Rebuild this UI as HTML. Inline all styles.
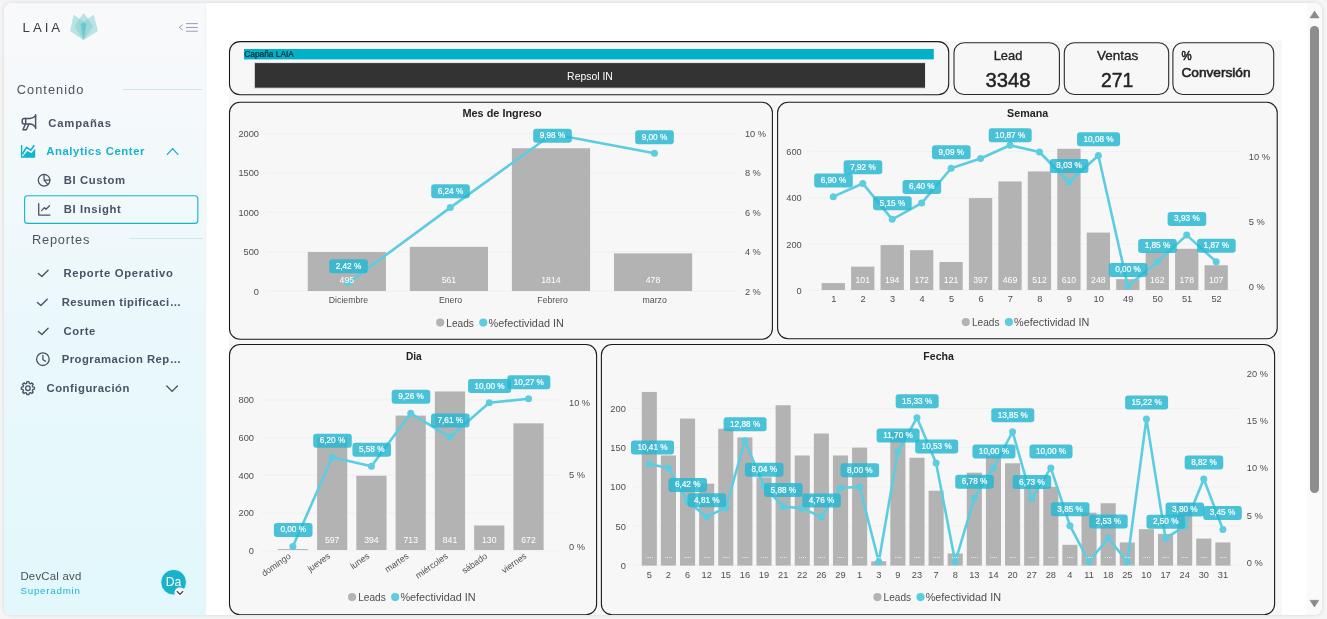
<!DOCTYPE html>
<html lang="es">
<head>
<meta charset="utf-8">
<title>LAIA - BI Insight</title>
<style>
*{box-sizing:border-box;margin:0;padding:0}
html,body{width:1327px;height:619px;overflow:hidden;background:#f5f5f5;font-family:"Liberation Sans",sans-serif}
#card{position:absolute;left:4px;top:3px;width:1318.2px;height:612px;border-radius:8px;background:#fff;box-shadow:0 0 4px rgba(0,0,0,.13);overflow:hidden}
#side{position:absolute;left:0;top:0;width:200.5px;height:612px;background:linear-gradient(180deg,#f8f9fb 0%,#f6f9fb 12%,#e9f8fb 60%,#e2f8fc 100%);box-shadow:1px 0 1px rgba(200,215,225,.3)}
#report{position:absolute;left:225px;top:38px;width:1053px;height:574px;background:#f7f7f7}
#track{position:absolute;left:1303px;top:0;width:15.5px;height:612px;background:#fafafa}
#thumb{position:absolute;left:1306.1px;top:22.7px;width:8.9px;height:467.5px;border-radius:4.5px;background:#8d8d8d}
.t{position:absolute;white-space:nowrap;line-height:1;color:#4b5264;font-weight:bold;font-size:11.3px}
.sec{position:absolute;white-space:nowrap;line-height:1;color:#4d5360;font-size:14px}
.hr{position:absolute;height:1px;background:#cfe6ee}
#ov{position:absolute;left:0;top:0;width:1327px;height:619px;font-family:"Liberation Sans",sans-serif}
#clip{position:absolute;left:0;top:0;width:1327px;height:615px;overflow:hidden}
</style>
</head>
<body>
<div id="card">
  <div id="report"></div>
  <div id="track"></div>
  <div id="thumb"></div>
  <div id="side"></div>
</div>
<div id="clip">
<svg id="ov" width="1327" height="619" viewBox="0 0 1327 619">
<!-- scrollbar arrows -->
<path d="M1314.55 11 L1319.1 17.9 L1310 17.9 Z" fill="#8a8a8a" stroke="#8a8a8a" stroke-width="0.6" stroke-linejoin="round"/>
<path d="M1314.4 607 L1318.8 600.3 L1310 600.3 Z" fill="#8a8a8a" stroke="#8a8a8a" stroke-width="0.6" stroke-linejoin="round"/>
<rect x="229.5" y="41.6" width="719.2" height="53.1" rx="10.5" ry="10.5" fill="none" stroke="#1a1a1a" stroke-width="1.1"/>
<rect x="244" y="49" width="689.8" height="10.4" fill="#00b1c9"/>
<text x="244.3" y="57.28" font-size="8.6" text-anchor="start" fill="#10262e" stroke="#10262e" stroke-width="0.2" textLength="49.5" lengthAdjust="spacingAndGlyphs">Capaña LAIA</text>
<rect x="254.3" y="62.6" width="671.2" height="25.6" fill="#333" stroke="#e9e9e9" stroke-width="1"/>
<text x="590" y="79.57" font-size="10.8" text-anchor="middle" fill="#fff" textLength="45.8" lengthAdjust="spacingAndGlyphs">Repsol IN</text>
<rect x="954" y="42.8" width="105.4" height="51.7" rx="10" ry="10" fill="none" stroke="#2a2a2a" stroke-width="1.1"/>
<rect x="1064.3" y="42.8" width="104.4" height="51.7" rx="10" ry="10" fill="none" stroke="#2a2a2a" stroke-width="1.1"/>
<rect x="1172.9" y="42.8" width="100.8" height="51.7" rx="10" ry="10" fill="none" stroke="#2a2a2a" stroke-width="1.1"/>
<text x="1008" y="60.07" font-size="13.6" text-anchor="middle" fill="#252423" stroke="#252423" stroke-width="0.35" textLength="28.6" lengthAdjust="spacingAndGlyphs">Lead</text>
<text x="1007.9" y="87.02" font-size="21" text-anchor="middle" fill="#252423" stroke="#252423" stroke-width="0.5" textLength="45" lengthAdjust="spacingAndGlyphs">3348</text>
<text x="1117.6" y="60.07" font-size="13.6" text-anchor="middle" fill="#252423" stroke="#252423" stroke-width="0.35" textLength="41.2" lengthAdjust="spacingAndGlyphs">Ventas</text>
<text x="1117.2" y="87.02" font-size="21" text-anchor="middle" fill="#252423" stroke="#252423" stroke-width="0.5" textLength="32.2" lengthAdjust="spacingAndGlyphs">271</text>
<text x="1181.4" y="60.2" font-size="13.4" text-anchor="start" fill="#252423" stroke="#252423" stroke-width="0.6" textLength="10.2" lengthAdjust="spacingAndGlyphs">%</text>
<text x="1181.4" y="77" font-size="13.4" text-anchor="start" fill="#252423" stroke="#252423" stroke-width="0.6" textLength="69.2" lengthAdjust="spacingAndGlyphs">Conversión</text>
<rect x="229.5" y="102.3" width="542.9" height="237" rx="10.5" ry="10.5" fill="none" stroke="#1a1a1a" stroke-width="1.1"/>
<text x="502.1" y="117.25" font-size="11.3" text-anchor="middle" fill="#252423" font-weight="bold" textLength="79.4" lengthAdjust="spacingAndGlyphs">Mes de Ingreso</text>
<line x1="266.8" x2="736.3" y1="291.2" y2="291.2" stroke="#f0f0f0" stroke-width="1"/><line x1="266.8" x2="736.3" y1="251.8" y2="251.8" stroke="#f0f0f0" stroke-width="1"/><line x1="266.8" x2="736.3" y1="212.4" y2="212.4" stroke="#f0f0f0" stroke-width="1"/><line x1="266.8" x2="736.3" y1="173" y2="173" stroke="#f0f0f0" stroke-width="1"/><line x1="266.8" x2="736.3" y1="133.6" y2="133.6" stroke="#f0f0f0" stroke-width="1"/><text x="259" y="294.6" font-size="9.5" text-anchor="end" fill="#504e4c" textLength="5.15" lengthAdjust="spacingAndGlyphs">0</text><text x="259" y="255.2" font-size="9.5" text-anchor="end" fill="#504e4c" textLength="15.45" lengthAdjust="spacingAndGlyphs">500</text><text x="259" y="215.8" font-size="9.5" text-anchor="end" fill="#504e4c" textLength="20.61" lengthAdjust="spacingAndGlyphs">1000</text><text x="259" y="176.4" font-size="9.5" text-anchor="end" fill="#504e4c" textLength="20.61" lengthAdjust="spacingAndGlyphs">1500</text><text x="259" y="137" font-size="9.5" text-anchor="end" fill="#504e4c" textLength="20.61" lengthAdjust="spacingAndGlyphs">2000</text><text x="744.9" y="294.6" font-size="9.5" text-anchor="start" fill="#504e4c" textLength="15.96" lengthAdjust="spacingAndGlyphs">2 %</text><text x="744.9" y="255.2" font-size="9.5" text-anchor="start" fill="#504e4c" textLength="15.96" lengthAdjust="spacingAndGlyphs">4 %</text><text x="744.9" y="215.8" font-size="9.5" text-anchor="start" fill="#504e4c" textLength="15.96" lengthAdjust="spacingAndGlyphs">6 %</text><text x="744.9" y="176.4" font-size="9.5" text-anchor="start" fill="#504e4c" textLength="15.96" lengthAdjust="spacingAndGlyphs">8 %</text><text x="744.9" y="137" font-size="9.5" text-anchor="start" fill="#504e4c" textLength="21.11" lengthAdjust="spacingAndGlyphs">10 %</text><rect x="307.75" y="252.04" width="78.2" height="38.96" fill="#b3b3b3"/><rect x="409.82" y="246.85" width="78.2" height="44.15" fill="#b3b3b3"/><rect x="511.89" y="148.24" width="78.2" height="142.76" fill="#b3b3b3"/><rect x="613.96" y="253.38" width="78.2" height="37.62" fill="#b3b3b3"/><polyline points="348.25,282.74 450.32,207.58 552.39,133.99 654.46,153.28" fill="none" stroke="#5ccde0" stroke-width="2.6" stroke-linejoin="round" stroke-linecap="round"/><circle cx="348.25" cy="282.74" r="3.5" fill="#5ccde0"/><circle cx="450.32" cy="207.58" r="3.5" fill="#5ccde0"/><circle cx="552.39" cy="133.99" r="3.5" fill="#5ccde0"/><circle cx="654.46" cy="153.28" r="3.5" fill="#5ccde0"/><text x="346.85" y="282.72" font-size="9" text-anchor="middle" fill="#fff" textLength="14.57" lengthAdjust="spacingAndGlyphs">495</text><text x="448.92" y="282.72" font-size="9" text-anchor="middle" fill="#fff" textLength="14.57" lengthAdjust="spacingAndGlyphs">561</text><text x="550.99" y="282.72" font-size="9" text-anchor="middle" fill="#fff" textLength="19.42" lengthAdjust="spacingAndGlyphs">1814</text><text x="653.06" y="282.72" font-size="9" text-anchor="middle" fill="#fff" textLength="14.57" lengthAdjust="spacingAndGlyphs">478</text><rect x="329.2" y="259.3" width="38.6" height="14.0" rx="3" fill="#27b8d0" fill-opacity="0.84"/><text x="348.5" y="268.72" font-size="9" text-anchor="middle" fill="#fff" stroke="#fff" stroke-width="0.2" textLength="25.64" lengthAdjust="spacingAndGlyphs">2,42 %</text><rect x="431.2" y="184.3" width="38.6" height="14.0" rx="3" fill="#27b8d0" fill-opacity="0.84"/><text x="450.5" y="193.72" font-size="9" text-anchor="middle" fill="#fff" stroke="#fff" stroke-width="0.2" textLength="25.64" lengthAdjust="spacingAndGlyphs">6,24 %</text><rect x="533.2" y="128.7" width="38.6" height="14.0" rx="3" fill="#27b8d0" fill-opacity="0.84"/><text x="552.5" y="138.12" font-size="9" text-anchor="middle" fill="#fff" stroke="#fff" stroke-width="0.2" textLength="25.64" lengthAdjust="spacingAndGlyphs">9,98 %</text><rect x="635.2" y="130.2" width="38.6" height="14.0" rx="3" fill="#27b8d0" fill-opacity="0.84"/><text x="654.5" y="139.62" font-size="9" text-anchor="middle" fill="#fff" stroke="#fff" stroke-width="0.2" textLength="25.64" lengthAdjust="spacingAndGlyphs">9,00 %</text>
<text x="348.45" y="302.93" font-size="9.3" text-anchor="middle" fill="#504e4c" textLength="39.22" lengthAdjust="spacingAndGlyphs">Diciembre</text>
<text x="450.52" y="302.93" font-size="9.3" text-anchor="middle" fill="#504e4c" textLength="23.25" lengthAdjust="spacingAndGlyphs">Enero</text>
<text x="552.59" y="302.93" font-size="9.3" text-anchor="middle" fill="#504e4c" textLength="30.51" lengthAdjust="spacingAndGlyphs">Febrero</text>
<text x="654.66" y="302.93" font-size="9.3" text-anchor="middle" fill="#504e4c" textLength="24.21" lengthAdjust="spacingAndGlyphs">marzo</text>
<circle cx="440.2" cy="322.6" r="4.1" fill="#b3b3b3"/><text x="446.3" y="326.66" font-size="10.5" text-anchor="start" fill="#504e4c" textLength="27.6" lengthAdjust="spacingAndGlyphs">Leads</text><circle cx="483.3" cy="322.6" r="4.1" fill="#5ccde0"/><text x="488.5" y="326.66" font-size="10.5" text-anchor="start" fill="#504e4c" textLength="75.3" lengthAdjust="spacingAndGlyphs">%efectividad IN</text>
<rect x="777.6" y="102.3" width="499.6" height="236.5" rx="10.5" ry="10.5" fill="none" stroke="#1a1a1a" stroke-width="1.1"/>
<text x="1027.6" y="117.25" font-size="11.3" text-anchor="middle" fill="#252423" font-weight="bold" textLength="41.2" lengthAdjust="spacingAndGlyphs">Semana</text>
<line x1="809.7" x2="1240" y1="290.3" y2="290.3" stroke="#f0f0f0" stroke-width="1"/><line x1="809.7" x2="1240" y1="244" y2="244" stroke="#f0f0f0" stroke-width="1"/><line x1="809.7" x2="1240" y1="197.7" y2="197.7" stroke="#f0f0f0" stroke-width="1"/><line x1="809.7" x2="1240" y1="151.4" y2="151.4" stroke="#f0f0f0" stroke-width="1"/><text x="801.7" y="294" font-size="9.5" text-anchor="end" fill="#504e4c" textLength="5.15" lengthAdjust="spacingAndGlyphs">0</text><text x="801.7" y="247.6" font-size="9.5" text-anchor="end" fill="#504e4c" textLength="15.45" lengthAdjust="spacingAndGlyphs">200</text><text x="801.7" y="201.3" font-size="9.5" text-anchor="end" fill="#504e4c" textLength="15.45" lengthAdjust="spacingAndGlyphs">400</text><text x="801.7" y="155.1" font-size="9.5" text-anchor="end" fill="#504e4c" textLength="15.45" lengthAdjust="spacingAndGlyphs">600</text><text x="1248.8" y="290.2" font-size="9.5" text-anchor="start" fill="#504e4c" textLength="15.96" lengthAdjust="spacingAndGlyphs">0 %</text><text x="1248.8" y="225" font-size="9.5" text-anchor="start" fill="#504e4c" textLength="15.96" lengthAdjust="spacingAndGlyphs">5 %</text><text x="1248.8" y="160" font-size="9.5" text-anchor="start" fill="#504e4c" textLength="21.11" lengthAdjust="spacingAndGlyphs">10 %</text><rect x="821.65" y="283.06" width="23.3" height="6.94" fill="#b3b3b3"/><rect x="851.1" y="266.62" width="23.3" height="23.38" fill="#b3b3b3"/><rect x="880.55" y="245.09" width="23.3" height="44.91" fill="#b3b3b3"/><rect x="910.01" y="250.18" width="23.3" height="39.82" fill="#b3b3b3"/><rect x="939.46" y="261.99" width="23.3" height="28.01" fill="#b3b3b3"/><rect x="968.91" y="198.09" width="23.3" height="91.91" fill="#b3b3b3"/><rect x="998.36" y="181.43" width="23.3" height="108.57" fill="#b3b3b3"/><rect x="1027.81" y="171.47" width="23.3" height="118.53" fill="#b3b3b3"/><rect x="1057.27" y="148.78" width="23.3" height="141.22" fill="#b3b3b3"/><rect x="1086.72" y="232.59" width="23.3" height="57.41" fill="#b3b3b3"/><rect x="1116.17" y="279.12" width="23.3" height="10.88" fill="#b3b3b3"/><rect x="1145.62" y="252.5" width="23.3" height="37.5" fill="#b3b3b3"/><rect x="1175.07" y="248.79" width="23.3" height="41.21" fill="#b3b3b3"/><rect x="1204.53" y="265.23" width="23.3" height="24.77" fill="#b3b3b3"/><polyline points="833.3,196.64 862.75,183.44 892.2,219.31 921.66,203.12 951.11,168.28 980.56,158.44 1010.01,145.23 1039.46,151.97 1068.92,182.01 1098.37,155.46 1127.82,286 1157.27,262.04 1186.72,235.11 1216.18,261.78" fill="none" stroke="#5ccde0" stroke-width="2.6" stroke-linejoin="round" stroke-linecap="round"/><circle cx="833.3" cy="196.64" r="3.5" fill="#5ccde0"/><circle cx="862.75" cy="183.44" r="3.5" fill="#5ccde0"/><circle cx="892.2" cy="219.31" r="3.5" fill="#5ccde0"/><circle cx="921.66" cy="203.12" r="3.5" fill="#5ccde0"/><circle cx="951.11" cy="168.28" r="3.5" fill="#5ccde0"/><circle cx="980.56" cy="158.44" r="3.5" fill="#5ccde0"/><circle cx="1010.01" cy="145.23" r="3.5" fill="#5ccde0"/><circle cx="1039.46" cy="151.97" r="3.5" fill="#5ccde0"/><circle cx="1068.92" cy="182.01" r="3.5" fill="#5ccde0"/><circle cx="1098.37" cy="155.46" r="3.5" fill="#5ccde0"/><circle cx="1127.82" cy="286" r="3.5" fill="#5ccde0"/><circle cx="1157.27" cy="262.04" r="3.5" fill="#5ccde0"/><circle cx="1186.72" cy="235.11" r="3.5" fill="#5ccde0"/><circle cx="1216.18" cy="261.78" r="3.5" fill="#5ccde0"/><text x="862.75" y="282.62" font-size="9" text-anchor="middle" fill="#fff" textLength="14.57" lengthAdjust="spacingAndGlyphs">101</text><text x="892.2" y="282.62" font-size="9" text-anchor="middle" fill="#fff" textLength="14.57" lengthAdjust="spacingAndGlyphs">194</text><text x="921.66" y="282.62" font-size="9" text-anchor="middle" fill="#fff" textLength="14.57" lengthAdjust="spacingAndGlyphs">172</text><text x="951.11" y="282.62" font-size="9" text-anchor="middle" fill="#fff" textLength="14.57" lengthAdjust="spacingAndGlyphs">121</text><text x="980.56" y="282.62" font-size="9" text-anchor="middle" fill="#fff" textLength="14.57" lengthAdjust="spacingAndGlyphs">397</text><text x="1010.01" y="282.62" font-size="9" text-anchor="middle" fill="#fff" textLength="14.57" lengthAdjust="spacingAndGlyphs">469</text><text x="1039.46" y="282.62" font-size="9" text-anchor="middle" fill="#fff" textLength="14.57" lengthAdjust="spacingAndGlyphs">512</text><text x="1068.92" y="282.62" font-size="9" text-anchor="middle" fill="#fff" textLength="14.57" lengthAdjust="spacingAndGlyphs">610</text><text x="1098.37" y="282.62" font-size="9" text-anchor="middle" fill="#fff" textLength="14.57" lengthAdjust="spacingAndGlyphs">248</text><text x="1157.27" y="282.62" font-size="9" text-anchor="middle" fill="#fff" textLength="14.57" lengthAdjust="spacingAndGlyphs">162</text><text x="1186.72" y="282.62" font-size="9" text-anchor="middle" fill="#fff" textLength="14.57" lengthAdjust="spacingAndGlyphs">178</text><text x="1216.18" y="282.62" font-size="9" text-anchor="middle" fill="#fff" textLength="14.57" lengthAdjust="spacingAndGlyphs">107</text><rect x="814.2" y="173.54" width="38.6" height="14.0" rx="3" fill="#27b8d0" fill-opacity="0.84"/><text x="833.5" y="182.97" font-size="9" text-anchor="middle" fill="#fff" stroke="#fff" stroke-width="0.2" textLength="25.64" lengthAdjust="spacingAndGlyphs">6,90 %</text><rect x="843.65" y="160.34" width="38.6" height="14.0" rx="3" fill="#27b8d0" fill-opacity="0.84"/><text x="862.95" y="169.76" font-size="9" text-anchor="middle" fill="#fff" stroke="#fff" stroke-width="0.2" textLength="25.64" lengthAdjust="spacingAndGlyphs">7,92 %</text><rect x="873.1" y="196.21" width="38.6" height="14.0" rx="3" fill="#27b8d0" fill-opacity="0.84"/><text x="892.4" y="205.63" font-size="9" text-anchor="middle" fill="#fff" stroke="#fff" stroke-width="0.2" textLength="25.64" lengthAdjust="spacingAndGlyphs">5,15 %</text><rect x="902.56" y="180.02" width="38.6" height="14.0" rx="3" fill="#27b8d0" fill-opacity="0.84"/><text x="921.86" y="189.44" font-size="9" text-anchor="middle" fill="#fff" stroke="#fff" stroke-width="0.2" textLength="25.64" lengthAdjust="spacingAndGlyphs">6,40 %</text><rect x="932.01" y="145.18" width="38.6" height="14.0" rx="3" fill="#27b8d0" fill-opacity="0.84"/><text x="951.31" y="154.61" font-size="9" text-anchor="middle" fill="#fff" stroke="#fff" stroke-width="0.2" textLength="25.64" lengthAdjust="spacingAndGlyphs">9,09 %</text><rect x="988.71" y="128.3" width="43" height="14.0" rx="3" fill="#27b8d0" fill-opacity="0.84"/><text x="1010.21" y="137.72" font-size="9" text-anchor="middle" fill="#fff" stroke="#fff" stroke-width="0.2" textLength="30.22" lengthAdjust="spacingAndGlyphs">10,87 %</text><rect x="1049.82" y="158.91" width="38.6" height="14.0" rx="3" fill="#27b8d0" fill-opacity="0.84"/><text x="1069.12" y="168.33" font-size="9" text-anchor="middle" fill="#fff" stroke="#fff" stroke-width="0.2" textLength="25.64" lengthAdjust="spacingAndGlyphs">8,03 %</text><rect x="1077.07" y="132.36" width="43" height="14.0" rx="3" fill="#27b8d0" fill-opacity="0.84"/><text x="1098.57" y="141.79" font-size="9" text-anchor="middle" fill="#fff" stroke="#fff" stroke-width="0.2" textLength="30.22" lengthAdjust="spacingAndGlyphs">10,08 %</text><rect x="1108.72" y="262.9" width="38.6" height="14.0" rx="3" fill="#27b8d0" fill-opacity="0.84"/><text x="1128.02" y="272.32" font-size="9" text-anchor="middle" fill="#fff" stroke="#fff" stroke-width="0.2" textLength="25.64" lengthAdjust="spacingAndGlyphs">0,00 %</text><rect x="1138.17" y="238.94" width="38.6" height="14.0" rx="3" fill="#27b8d0" fill-opacity="0.84"/><text x="1157.47" y="248.36" font-size="9" text-anchor="middle" fill="#fff" stroke="#fff" stroke-width="0.2" textLength="25.64" lengthAdjust="spacingAndGlyphs">1,85 %</text><rect x="1167.62" y="212.01" width="38.6" height="14.0" rx="3" fill="#27b8d0" fill-opacity="0.84"/><text x="1186.92" y="221.43" font-size="9" text-anchor="middle" fill="#fff" stroke="#fff" stroke-width="0.2" textLength="25.64" lengthAdjust="spacingAndGlyphs">3,93 %</text><rect x="1197.08" y="238.68" width="38.6" height="14.0" rx="3" fill="#27b8d0" fill-opacity="0.84"/><text x="1216.38" y="248.11" font-size="9" text-anchor="middle" fill="#fff" stroke="#fff" stroke-width="0.2" textLength="25.64" lengthAdjust="spacingAndGlyphs">1,87 %</text>
<text x="833.7" y="301.9" font-size="9.5" text-anchor="middle" fill="#504e4c" textLength="5.15" lengthAdjust="spacingAndGlyphs">1</text>
<text x="863.15" y="301.9" font-size="9.5" text-anchor="middle" fill="#504e4c" textLength="5.15" lengthAdjust="spacingAndGlyphs">2</text>
<text x="892.6" y="301.9" font-size="9.5" text-anchor="middle" fill="#504e4c" textLength="5.15" lengthAdjust="spacingAndGlyphs">3</text>
<text x="922.06" y="301.9" font-size="9.5" text-anchor="middle" fill="#504e4c" textLength="5.15" lengthAdjust="spacingAndGlyphs">4</text>
<text x="951.51" y="301.9" font-size="9.5" text-anchor="middle" fill="#504e4c" textLength="5.15" lengthAdjust="spacingAndGlyphs">5</text>
<text x="980.96" y="301.9" font-size="9.5" text-anchor="middle" fill="#504e4c" textLength="5.15" lengthAdjust="spacingAndGlyphs">6</text>
<text x="1010.41" y="301.9" font-size="9.5" text-anchor="middle" fill="#504e4c" textLength="5.15" lengthAdjust="spacingAndGlyphs">7</text>
<text x="1039.86" y="301.9" font-size="9.5" text-anchor="middle" fill="#504e4c" textLength="5.15" lengthAdjust="spacingAndGlyphs">8</text>
<text x="1069.32" y="301.9" font-size="9.5" text-anchor="middle" fill="#504e4c" textLength="5.15" lengthAdjust="spacingAndGlyphs">9</text>
<text x="1098.77" y="301.9" font-size="9.5" text-anchor="middle" fill="#504e4c" textLength="10.3" lengthAdjust="spacingAndGlyphs">10</text>
<text x="1128.22" y="301.9" font-size="9.5" text-anchor="middle" fill="#504e4c" textLength="10.3" lengthAdjust="spacingAndGlyphs">49</text>
<text x="1157.67" y="301.9" font-size="9.5" text-anchor="middle" fill="#504e4c" textLength="10.3" lengthAdjust="spacingAndGlyphs">50</text>
<text x="1187.12" y="301.9" font-size="9.5" text-anchor="middle" fill="#504e4c" textLength="10.3" lengthAdjust="spacingAndGlyphs">51</text>
<text x="1216.58" y="301.9" font-size="9.5" text-anchor="middle" fill="#504e4c" textLength="10.3" lengthAdjust="spacingAndGlyphs">52</text>
<circle cx="965.8" cy="322.1" r="4.1" fill="#b3b3b3"/><text x="971.9" y="326.16" font-size="10.5" text-anchor="start" fill="#504e4c" textLength="27.6" lengthAdjust="spacingAndGlyphs">Leads</text><circle cx="1008.9" cy="322.1" r="4.1" fill="#5ccde0"/><text x="1014.1" y="326.16" font-size="10.5" text-anchor="start" fill="#504e4c" textLength="75.3" lengthAdjust="spacingAndGlyphs">%efectividad IN</text>
<rect x="229.5" y="344.5" width="367.1" height="270.2" rx="10.5" ry="10.5" fill="none" stroke="#1a1a1a" stroke-width="1.1"/>
<text x="413.8" y="360.35" font-size="11.3" text-anchor="middle" fill="#252423" font-weight="bold" textLength="15.8" lengthAdjust="spacingAndGlyphs">Dia</text>
<line x1="261.6" x2="559.7" y1="550.7" y2="550.7" stroke="#f0f0f0" stroke-width="1"/><line x1="261.6" x2="559.7" y1="513" y2="513" stroke="#f0f0f0" stroke-width="1"/><line x1="261.6" x2="559.7" y1="475.3" y2="475.3" stroke="#f0f0f0" stroke-width="1"/><line x1="261.6" x2="559.7" y1="437.6" y2="437.6" stroke="#f0f0f0" stroke-width="1"/><line x1="261.6" x2="559.7" y1="399.9" y2="399.9" stroke="#f0f0f0" stroke-width="1"/><text x="254" y="554.1" font-size="9.5" text-anchor="end" fill="#504e4c" textLength="5.15" lengthAdjust="spacingAndGlyphs">0</text><text x="254" y="516.4" font-size="9.5" text-anchor="end" fill="#504e4c" textLength="15.45" lengthAdjust="spacingAndGlyphs">200</text><text x="254" y="478.7" font-size="9.5" text-anchor="end" fill="#504e4c" textLength="15.45" lengthAdjust="spacingAndGlyphs">400</text><text x="254" y="441" font-size="9.5" text-anchor="end" fill="#504e4c" textLength="15.45" lengthAdjust="spacingAndGlyphs">600</text><text x="254" y="403.3" font-size="9.5" text-anchor="end" fill="#504e4c" textLength="15.45" lengthAdjust="spacingAndGlyphs">800</text><text x="569" y="550" font-size="9.5" text-anchor="start" fill="#504e4c" textLength="15.96" lengthAdjust="spacingAndGlyphs">0 %</text><text x="569" y="478" font-size="9.5" text-anchor="start" fill="#504e4c" textLength="15.96" lengthAdjust="spacingAndGlyphs">5 %</text><text x="569" y="406.1" font-size="9.5" text-anchor="start" fill="#504e4c" textLength="21.11" lengthAdjust="spacingAndGlyphs">10 %</text><rect x="277.8" y="549.06" width="30.2" height="0.94" fill="#b3b3b3"/><rect x="317.07" y="437.47" width="30.2" height="112.53" fill="#b3b3b3"/><rect x="356.34" y="475.73" width="30.2" height="74.27" fill="#b3b3b3"/><rect x="395.61" y="415.6" width="30.2" height="134.4" fill="#b3b3b3"/><rect x="434.88" y="391.47" width="30.2" height="158.53" fill="#b3b3b3"/><rect x="474.15" y="525.5" width="30.2" height="24.5" fill="#b3b3b3"/><rect x="513.42" y="423.33" width="30.2" height="126.67" fill="#b3b3b3"/><polyline points="292.9,546.5 332.17,457.34 371.44,466.26 410.71,413.34 449.98,437.07 489.25,402.7 528.52,398.82" fill="none" stroke="#5ccde0" stroke-width="2.6" stroke-linejoin="round" stroke-linecap="round"/><circle cx="292.9" cy="546.5" r="3.5" fill="#5ccde0"/><circle cx="332.17" cy="457.34" r="3.5" fill="#5ccde0"/><circle cx="371.44" cy="466.26" r="3.5" fill="#5ccde0"/><circle cx="410.71" cy="413.34" r="3.5" fill="#5ccde0"/><circle cx="449.98" cy="437.07" r="3.5" fill="#5ccde0"/><circle cx="489.25" cy="402.7" r="3.5" fill="#5ccde0"/><circle cx="528.52" cy="398.82" r="3.5" fill="#5ccde0"/><text x="332.17" y="542.52" font-size="9" text-anchor="middle" fill="#fff" textLength="14.57" lengthAdjust="spacingAndGlyphs">597</text><text x="371.44" y="542.52" font-size="9" text-anchor="middle" fill="#fff" textLength="14.57" lengthAdjust="spacingAndGlyphs">394</text><text x="410.71" y="542.52" font-size="9" text-anchor="middle" fill="#fff" textLength="14.57" lengthAdjust="spacingAndGlyphs">713</text><text x="449.98" y="542.52" font-size="9" text-anchor="middle" fill="#fff" textLength="14.57" lengthAdjust="spacingAndGlyphs">841</text><text x="489.25" y="542.52" font-size="9" text-anchor="middle" fill="#fff" textLength="14.57" lengthAdjust="spacingAndGlyphs">130</text><text x="528.52" y="542.52" font-size="9" text-anchor="middle" fill="#fff" textLength="14.57" lengthAdjust="spacingAndGlyphs">672</text><rect x="273.9" y="522.9" width="38.6" height="14.0" rx="3" fill="#27b8d0" fill-opacity="0.84"/><text x="293.2" y="532.32" font-size="9" text-anchor="middle" fill="#fff" stroke="#fff" stroke-width="0.2" textLength="25.64" lengthAdjust="spacingAndGlyphs">0,00 %</text><rect x="313.17" y="433.74" width="38.6" height="14.0" rx="3" fill="#27b8d0" fill-opacity="0.84"/><text x="332.47" y="443.17" font-size="9" text-anchor="middle" fill="#fff" stroke="#fff" stroke-width="0.2" textLength="25.64" lengthAdjust="spacingAndGlyphs">6,20 %</text><rect x="352.44" y="442.66" width="38.6" height="14.0" rx="3" fill="#27b8d0" fill-opacity="0.84"/><text x="371.74" y="452.08" font-size="9" text-anchor="middle" fill="#fff" stroke="#fff" stroke-width="0.2" textLength="25.64" lengthAdjust="spacingAndGlyphs">5,58 %</text><rect x="391.71" y="389.74" width="38.6" height="14.0" rx="3" fill="#27b8d0" fill-opacity="0.84"/><text x="411.01" y="399.16" font-size="9" text-anchor="middle" fill="#fff" stroke="#fff" stroke-width="0.2" textLength="25.64" lengthAdjust="spacingAndGlyphs">9,26 %</text><rect x="430.98" y="413.47" width="38.6" height="14.0" rx="3" fill="#27b8d0" fill-opacity="0.84"/><text x="450.28" y="422.89" font-size="9" text-anchor="middle" fill="#fff" stroke="#fff" stroke-width="0.2" textLength="25.64" lengthAdjust="spacingAndGlyphs">7,61 %</text><rect x="468.05" y="379.1" width="43" height="14.0" rx="3" fill="#27b8d0" fill-opacity="0.84"/><text x="489.55" y="388.52" font-size="9" text-anchor="middle" fill="#fff" stroke="#fff" stroke-width="0.2" textLength="30.22" lengthAdjust="spacingAndGlyphs">10,00 %</text><rect x="507.32" y="375.22" width="43" height="14.0" rx="3" fill="#27b8d0" fill-opacity="0.84"/><text x="528.82" y="384.64" font-size="9" text-anchor="middle" fill="#fff" stroke="#fff" stroke-width="0.2" textLength="30.22" lengthAdjust="spacingAndGlyphs">10,27 %</text>
<text x="0" y="3.22" font-size="9" text-anchor="end" fill="#504e4c" textLength="33.49" lengthAdjust="spacingAndGlyphs" transform="translate(289.7,554.9) rotate(-35)">domingo</text>
<text x="0" y="3.22" font-size="9" text-anchor="end" fill="#504e4c" textLength="25.24" lengthAdjust="spacingAndGlyphs" transform="translate(328.97,554.9) rotate(-35)">jueves</text>
<text x="0" y="3.22" font-size="9" text-anchor="end" fill="#504e4c" textLength="20.87" lengthAdjust="spacingAndGlyphs" transform="translate(368.24,554.9) rotate(-35)">lunes</text>
<text x="0" y="3.22" font-size="9" text-anchor="end" fill="#504e4c" textLength="26.68" lengthAdjust="spacingAndGlyphs" transform="translate(407.51,554.9) rotate(-35)">martes</text>
<text x="0" y="3.22" font-size="9" text-anchor="end" fill="#504e4c" textLength="37.36" lengthAdjust="spacingAndGlyphs" transform="translate(446.78,554.9) rotate(-35)">miércoles</text>
<text x="0" y="3.22" font-size="9" text-anchor="end" fill="#504e4c" textLength="28.64" lengthAdjust="spacingAndGlyphs" transform="translate(486.05,554.9) rotate(-35)">sábado</text>
<text x="0" y="3.22" font-size="9" text-anchor="end" fill="#504e4c" textLength="28.14" lengthAdjust="spacingAndGlyphs" transform="translate(525.32,554.9) rotate(-35)">viernes</text>
<circle cx="352.1" cy="597.1" r="4.1" fill="#b3b3b3"/><text x="358.2" y="601.16" font-size="10.5" text-anchor="start" fill="#504e4c" textLength="27.6" lengthAdjust="spacingAndGlyphs">Leads</text><circle cx="395.2" cy="597.1" r="4.1" fill="#5ccde0"/><text x="400.4" y="601.16" font-size="10.5" text-anchor="start" fill="#504e4c" textLength="75.3" lengthAdjust="spacingAndGlyphs">%efectividad IN</text>
<rect x="601.4" y="344.5" width="673.2" height="270.2" rx="10.5" ry="10.5" fill="none" stroke="#1a1a1a" stroke-width="1.1"/>
<text x="938.6" y="360.35" font-size="11.3" text-anchor="middle" fill="#252423" font-weight="bold" textLength="30.5" lengthAdjust="spacingAndGlyphs">Fecha</text>
<line x1="633.7" x2="1238.9" y1="565.3" y2="565.3" stroke="#f0f0f0" stroke-width="1"/><line x1="633.7" x2="1238.9" y1="526.1" y2="526.1" stroke="#f0f0f0" stroke-width="1"/><line x1="633.7" x2="1238.9" y1="486.9" y2="486.9" stroke="#f0f0f0" stroke-width="1"/><line x1="633.7" x2="1238.9" y1="447.7" y2="447.7" stroke="#f0f0f0" stroke-width="1"/><line x1="633.7" x2="1238.9" y1="408.5" y2="408.5" stroke="#f0f0f0" stroke-width="1"/><text x="625.8" y="568.7" font-size="9.5" text-anchor="end" fill="#504e4c" textLength="5.15" lengthAdjust="spacingAndGlyphs">0</text><text x="625.8" y="529.5" font-size="9.5" text-anchor="end" fill="#504e4c" textLength="10.3" lengthAdjust="spacingAndGlyphs">50</text><text x="625.8" y="490.3" font-size="9.5" text-anchor="end" fill="#504e4c" textLength="15.45" lengthAdjust="spacingAndGlyphs">100</text><text x="625.8" y="451.1" font-size="9.5" text-anchor="end" fill="#504e4c" textLength="15.45" lengthAdjust="spacingAndGlyphs">150</text><text x="625.8" y="411.9" font-size="9.5" text-anchor="end" fill="#504e4c" textLength="15.45" lengthAdjust="spacingAndGlyphs">200</text><text x="1246.8" y="565.9" font-size="9.5" text-anchor="start" fill="#504e4c" textLength="15.96" lengthAdjust="spacingAndGlyphs">0 %</text><text x="1246.8" y="518.9" font-size="9.5" text-anchor="start" fill="#504e4c" textLength="15.96" lengthAdjust="spacingAndGlyphs">5 %</text><text x="1246.8" y="471.1" font-size="9.5" text-anchor="start" fill="#504e4c" textLength="21.11" lengthAdjust="spacingAndGlyphs">10 %</text><text x="1246.8" y="423.8" font-size="9.5" text-anchor="start" fill="#504e4c" textLength="21.11" lengthAdjust="spacingAndGlyphs">15 %</text><text x="1246.8" y="377.3" font-size="9.5" text-anchor="start" fill="#504e4c" textLength="21.11" lengthAdjust="spacingAndGlyphs">20 %</text><rect x="641.75" y="391.94" width="15.1" height="173.66" fill="#b3b3b3"/><rect x="660.87" y="455.44" width="15.1" height="110.16" fill="#b3b3b3"/><rect x="679.99" y="418.59" width="15.1" height="147.01" fill="#b3b3b3"/><rect x="699.11" y="483.66" width="15.1" height="81.94" fill="#b3b3b3"/><rect x="718.23" y="428.78" width="15.1" height="136.82" fill="#b3b3b3"/><rect x="737.35" y="437.41" width="15.1" height="128.19" fill="#b3b3b3"/><rect x="756.47" y="477.39" width="15.1" height="88.21" fill="#b3b3b3"/><rect x="775.59" y="405.26" width="15.1" height="160.34" fill="#b3b3b3"/><rect x="794.71" y="455.44" width="15.1" height="110.16" fill="#b3b3b3"/><rect x="813.83" y="433.49" width="15.1" height="132.11" fill="#b3b3b3"/><rect x="832.95" y="455.44" width="15.1" height="110.16" fill="#b3b3b3"/><rect x="852.07" y="447.6" width="15.1" height="118" fill="#b3b3b3"/><rect x="871.19" y="561.28" width="15.1" height="4.32" fill="#b3b3b3"/><rect x="890.31" y="431.14" width="15.1" height="134.46" fill="#b3b3b3"/><rect x="909.43" y="457.79" width="15.1" height="107.81" fill="#b3b3b3"/><rect x="928.55" y="490.72" width="15.1" height="74.88" fill="#b3b3b3"/><rect x="947.67" y="553.44" width="15.1" height="12.16" fill="#b3b3b3"/><rect x="966.79" y="472.69" width="15.1" height="92.91" fill="#b3b3b3"/><rect x="985.91" y="455.44" width="15.1" height="110.16" fill="#b3b3b3"/><rect x="1005.03" y="463.28" width="15.1" height="102.32" fill="#b3b3b3"/><rect x="1024.15" y="483.66" width="15.1" height="81.94" fill="#b3b3b3"/><rect x="1043.27" y="486.8" width="15.1" height="78.8" fill="#b3b3b3"/><rect x="1062.39" y="544.82" width="15.1" height="20.78" fill="#b3b3b3"/><rect x="1081.51" y="512.67" width="15.1" height="52.93" fill="#b3b3b3"/><rect x="1100.63" y="503.26" width="15.1" height="62.34" fill="#b3b3b3"/><rect x="1119.75" y="542.46" width="15.1" height="23.14" fill="#b3b3b3"/><rect x="1138.87" y="529.14" width="15.1" height="36.46" fill="#b3b3b3"/><rect x="1157.99" y="533.84" width="15.1" height="31.76" fill="#b3b3b3"/><rect x="1177.11" y="503.26" width="15.1" height="62.34" fill="#b3b3b3"/><rect x="1196.23" y="538.54" width="15.1" height="27.06" fill="#b3b3b3"/><rect x="1215.35" y="542.46" width="15.1" height="23.14" fill="#b3b3b3"/><polyline points="649.3,464.05 668.42,467.9 687.54,501.52 706.66,516.63 725.78,507.81 744.9,440.86 764.02,486.3 783.14,506.59 802.26,508.18 821.38,517.1 840.5,487.99 859.62,486.68 878.74,561.8 897.86,451.94 916.98,417.85 936.1,462.92 955.22,561.8 974.34,498.14 993.46,467.9 1012.58,431.75 1031.7,498.61 1050.82,467.9 1069.94,525.65 1089.06,561.8 1108.18,538.04 1127.3,561.8 1146.42,418.88 1165.54,538.32 1184.66,526.12 1203.78,478.98 1222.9,529.4" fill="none" stroke="#5ccde0" stroke-width="2.6" stroke-linejoin="round" stroke-linecap="round"/><circle cx="649.3" cy="464.05" r="3.5" fill="#5ccde0"/><circle cx="668.42" cy="467.9" r="3.5" fill="#5ccde0"/><circle cx="687.54" cy="501.52" r="3.5" fill="#5ccde0"/><circle cx="706.66" cy="516.63" r="3.5" fill="#5ccde0"/><circle cx="725.78" cy="507.81" r="3.5" fill="#5ccde0"/><circle cx="744.9" cy="440.86" r="3.5" fill="#5ccde0"/><circle cx="764.02" cy="486.3" r="3.5" fill="#5ccde0"/><circle cx="783.14" cy="506.59" r="3.5" fill="#5ccde0"/><circle cx="802.26" cy="508.18" r="3.5" fill="#5ccde0"/><circle cx="821.38" cy="517.1" r="3.5" fill="#5ccde0"/><circle cx="840.5" cy="487.99" r="3.5" fill="#5ccde0"/><circle cx="859.62" cy="486.68" r="3.5" fill="#5ccde0"/><circle cx="878.74" cy="561.8" r="3.5" fill="#5ccde0"/><circle cx="897.86" cy="451.94" r="3.5" fill="#5ccde0"/><circle cx="916.98" cy="417.85" r="3.5" fill="#5ccde0"/><circle cx="936.1" cy="462.92" r="3.5" fill="#5ccde0"/><circle cx="955.22" cy="561.8" r="3.5" fill="#5ccde0"/><circle cx="974.34" cy="498.14" r="3.5" fill="#5ccde0"/><circle cx="993.46" cy="467.9" r="3.5" fill="#5ccde0"/><circle cx="1012.58" cy="431.75" r="3.5" fill="#5ccde0"/><circle cx="1031.7" cy="498.61" r="3.5" fill="#5ccde0"/><circle cx="1050.82" cy="467.9" r="3.5" fill="#5ccde0"/><circle cx="1069.94" cy="525.65" r="3.5" fill="#5ccde0"/><circle cx="1089.06" cy="561.8" r="3.5" fill="#5ccde0"/><circle cx="1108.18" cy="538.04" r="3.5" fill="#5ccde0"/><circle cx="1127.3" cy="561.8" r="3.5" fill="#5ccde0"/><circle cx="1146.42" cy="418.88" r="3.5" fill="#5ccde0"/><circle cx="1165.54" cy="538.32" r="3.5" fill="#5ccde0"/><circle cx="1184.66" cy="526.12" r="3.5" fill="#5ccde0"/><circle cx="1203.78" cy="478.98" r="3.5" fill="#5ccde0"/><circle cx="1222.9" cy="529.4" r="3.5" fill="#5ccde0"/><text x="649.6" y="557.92" font-size="9" text-anchor="middle" fill="#fff" textLength="7.4" lengthAdjust="spacingAndGlyphs">....</text><text x="668.72" y="557.92" font-size="9" text-anchor="middle" fill="#fff" textLength="7.4" lengthAdjust="spacingAndGlyphs">....</text><text x="687.84" y="557.92" font-size="9" text-anchor="middle" fill="#fff" textLength="7.4" lengthAdjust="spacingAndGlyphs">....</text><text x="706.96" y="557.92" font-size="9" text-anchor="middle" fill="#fff" textLength="7.4" lengthAdjust="spacingAndGlyphs">....</text><text x="726.08" y="557.92" font-size="9" text-anchor="middle" fill="#fff" textLength="7.4" lengthAdjust="spacingAndGlyphs">....</text><text x="745.2" y="557.92" font-size="9" text-anchor="middle" fill="#fff" textLength="7.4" lengthAdjust="spacingAndGlyphs">....</text><text x="764.32" y="557.92" font-size="9" text-anchor="middle" fill="#fff" textLength="7.4" lengthAdjust="spacingAndGlyphs">....</text><text x="783.44" y="557.92" font-size="9" text-anchor="middle" fill="#fff" textLength="7.4" lengthAdjust="spacingAndGlyphs">....</text><text x="802.56" y="557.92" font-size="9" text-anchor="middle" fill="#fff" textLength="7.4" lengthAdjust="spacingAndGlyphs">....</text><text x="821.68" y="557.92" font-size="9" text-anchor="middle" fill="#fff" textLength="7.4" lengthAdjust="spacingAndGlyphs">....</text><text x="840.8" y="557.92" font-size="9" text-anchor="middle" fill="#fff" textLength="7.4" lengthAdjust="spacingAndGlyphs">....</text><text x="859.92" y="557.92" font-size="9" text-anchor="middle" fill="#fff" textLength="7.4" lengthAdjust="spacingAndGlyphs">....</text><text x="879.04" y="557.92" font-size="9" text-anchor="middle" fill="#fff" textLength="7.4" lengthAdjust="spacingAndGlyphs">....</text><text x="898.16" y="557.92" font-size="9" text-anchor="middle" fill="#fff" textLength="7.4" lengthAdjust="spacingAndGlyphs">....</text><text x="917.28" y="557.92" font-size="9" text-anchor="middle" fill="#fff" textLength="7.4" lengthAdjust="spacingAndGlyphs">....</text><text x="936.4" y="557.92" font-size="9" text-anchor="middle" fill="#fff" textLength="7.4" lengthAdjust="spacingAndGlyphs">....</text><text x="955.52" y="557.92" font-size="9" text-anchor="middle" fill="#fff" textLength="7.4" lengthAdjust="spacingAndGlyphs">....</text><text x="974.64" y="557.92" font-size="9" text-anchor="middle" fill="#fff" textLength="7.4" lengthAdjust="spacingAndGlyphs">....</text><text x="993.76" y="557.92" font-size="9" text-anchor="middle" fill="#fff" textLength="7.4" lengthAdjust="spacingAndGlyphs">....</text><text x="1012.88" y="557.92" font-size="9" text-anchor="middle" fill="#fff" textLength="7.4" lengthAdjust="spacingAndGlyphs">....</text><text x="1032" y="557.92" font-size="9" text-anchor="middle" fill="#fff" textLength="7.4" lengthAdjust="spacingAndGlyphs">....</text><text x="1051.12" y="557.92" font-size="9" text-anchor="middle" fill="#fff" textLength="7.4" lengthAdjust="spacingAndGlyphs">....</text><text x="1070.24" y="557.92" font-size="9" text-anchor="middle" fill="#fff" textLength="7.4" lengthAdjust="spacingAndGlyphs">....</text><text x="1089.36" y="557.92" font-size="9" text-anchor="middle" fill="#fff" textLength="7.4" lengthAdjust="spacingAndGlyphs">....</text><text x="1108.48" y="557.92" font-size="9" text-anchor="middle" fill="#fff" textLength="7.4" lengthAdjust="spacingAndGlyphs">....</text><text x="1127.6" y="557.92" font-size="9" text-anchor="middle" fill="#fff" textLength="7.4" lengthAdjust="spacingAndGlyphs">....</text><text x="1146.72" y="557.92" font-size="9" text-anchor="middle" fill="#fff" textLength="7.4" lengthAdjust="spacingAndGlyphs">....</text><text x="1165.84" y="557.92" font-size="9" text-anchor="middle" fill="#fff" textLength="7.4" lengthAdjust="spacingAndGlyphs">....</text><text x="1184.96" y="557.92" font-size="9" text-anchor="middle" fill="#fff" textLength="7.4" lengthAdjust="spacingAndGlyphs">....</text><text x="1204.08" y="557.92" font-size="9" text-anchor="middle" fill="#fff" textLength="7.4" lengthAdjust="spacingAndGlyphs">....</text><text x="1223.2" y="557.92" font-size="9" text-anchor="middle" fill="#fff" textLength="7.4" lengthAdjust="spacingAndGlyphs">....</text><rect x="631" y="440.55" width="43" height="14.0" rx="3" fill="#27b8d0" fill-opacity="0.84"/><text x="652.5" y="449.97" font-size="9" text-anchor="middle" fill="#fff" stroke="#fff" stroke-width="0.2" textLength="30.22" lengthAdjust="spacingAndGlyphs">10,41 %</text><rect x="668.44" y="478.02" width="38.6" height="14.0" rx="3" fill="#27b8d0" fill-opacity="0.84"/><text x="687.74" y="487.44" font-size="9" text-anchor="middle" fill="#fff" stroke="#fff" stroke-width="0.2" textLength="25.64" lengthAdjust="spacingAndGlyphs">6,42 %</text><rect x="687.56" y="493.13" width="38.6" height="14.0" rx="3" fill="#27b8d0" fill-opacity="0.84"/><text x="706.86" y="502.56" font-size="9" text-anchor="middle" fill="#fff" stroke="#fff" stroke-width="0.2" textLength="25.64" lengthAdjust="spacingAndGlyphs">4,81 %</text><rect x="723.6" y="417.36" width="43" height="14.0" rx="3" fill="#27b8d0" fill-opacity="0.84"/><text x="745.1" y="426.78" font-size="9" text-anchor="middle" fill="#fff" stroke="#fff" stroke-width="0.2" textLength="30.22" lengthAdjust="spacingAndGlyphs">12,88 %</text><rect x="744.92" y="462.8" width="38.6" height="14.0" rx="3" fill="#27b8d0" fill-opacity="0.84"/><text x="764.22" y="472.23" font-size="9" text-anchor="middle" fill="#fff" stroke="#fff" stroke-width="0.2" textLength="25.64" lengthAdjust="spacingAndGlyphs">8,04 %</text><rect x="764.04" y="483.09" width="38.6" height="14.0" rx="3" fill="#27b8d0" fill-opacity="0.84"/><text x="783.34" y="492.51" font-size="9" text-anchor="middle" fill="#fff" stroke="#fff" stroke-width="0.2" textLength="25.64" lengthAdjust="spacingAndGlyphs">5,88 %</text><rect x="802.28" y="493.6" width="38.6" height="14.0" rx="3" fill="#27b8d0" fill-opacity="0.84"/><text x="821.58" y="503.03" font-size="9" text-anchor="middle" fill="#fff" stroke="#fff" stroke-width="0.2" textLength="25.64" lengthAdjust="spacingAndGlyphs">4,76 %</text><rect x="840.52" y="463.18" width="38.6" height="14.0" rx="3" fill="#27b8d0" fill-opacity="0.84"/><text x="859.82" y="472.6" font-size="9" text-anchor="middle" fill="#fff" stroke="#fff" stroke-width="0.2" textLength="25.64" lengthAdjust="spacingAndGlyphs">8,00 %</text><rect x="876.56" y="428.44" width="43" height="14.0" rx="3" fill="#27b8d0" fill-opacity="0.84"/><text x="898.06" y="437.86" font-size="9" text-anchor="middle" fill="#fff" stroke="#fff" stroke-width="0.2" textLength="29.61" lengthAdjust="spacingAndGlyphs">11,70 %</text><rect x="895.68" y="394.35" width="43" height="14.0" rx="3" fill="#27b8d0" fill-opacity="0.84"/><text x="917.18" y="403.77" font-size="9" text-anchor="middle" fill="#fff" stroke="#fff" stroke-width="0.2" textLength="30.22" lengthAdjust="spacingAndGlyphs">15,33 %</text><rect x="915.2" y="439.42" width="43" height="14.0" rx="3" fill="#27b8d0" fill-opacity="0.84"/><text x="936.7" y="448.85" font-size="9" text-anchor="middle" fill="#fff" stroke="#fff" stroke-width="0.2" textLength="30.22" lengthAdjust="spacingAndGlyphs">10,53 %</text><rect x="955.24" y="474.64" width="38.6" height="14.0" rx="3" fill="#27b8d0" fill-opacity="0.84"/><text x="974.54" y="484.06" font-size="9" text-anchor="middle" fill="#fff" stroke="#fff" stroke-width="0.2" textLength="25.64" lengthAdjust="spacingAndGlyphs">6,78 %</text><rect x="972.46" y="444.4" width="43" height="14.0" rx="3" fill="#27b8d0" fill-opacity="0.84"/><text x="993.96" y="453.82" font-size="9" text-anchor="middle" fill="#fff" stroke="#fff" stroke-width="0.2" textLength="30.22" lengthAdjust="spacingAndGlyphs">10,00 %</text><rect x="991.28" y="408.25" width="43" height="14.0" rx="3" fill="#27b8d0" fill-opacity="0.84"/><text x="1012.78" y="417.67" font-size="9" text-anchor="middle" fill="#fff" stroke="#fff" stroke-width="0.2" textLength="30.22" lengthAdjust="spacingAndGlyphs">13,85 %</text><rect x="1012.6" y="475.11" width="38.6" height="14.0" rx="3" fill="#27b8d0" fill-opacity="0.84"/><text x="1031.9" y="484.53" font-size="9" text-anchor="middle" fill="#fff" stroke="#fff" stroke-width="0.2" textLength="25.64" lengthAdjust="spacingAndGlyphs">6,73 %</text><rect x="1029.52" y="444.4" width="43" height="14.0" rx="3" fill="#27b8d0" fill-opacity="0.84"/><text x="1051.02" y="453.82" font-size="9" text-anchor="middle" fill="#fff" stroke="#fff" stroke-width="0.2" textLength="30.22" lengthAdjust="spacingAndGlyphs">10,00 %</text><rect x="1050.84" y="502.15" width="38.6" height="14.0" rx="3" fill="#27b8d0" fill-opacity="0.84"/><text x="1070.14" y="511.57" font-size="9" text-anchor="middle" fill="#fff" stroke="#fff" stroke-width="0.2" textLength="25.64" lengthAdjust="spacingAndGlyphs">3,85 %</text><rect x="1089.08" y="514.54" width="38.6" height="14.0" rx="3" fill="#27b8d0" fill-opacity="0.84"/><text x="1108.38" y="523.97" font-size="9" text-anchor="middle" fill="#fff" stroke="#fff" stroke-width="0.2" textLength="25.64" lengthAdjust="spacingAndGlyphs">2,53 %</text><rect x="1125.12" y="395.38" width="43" height="14.0" rx="3" fill="#27b8d0" fill-opacity="0.84"/><text x="1146.62" y="404.81" font-size="9" text-anchor="middle" fill="#fff" stroke="#fff" stroke-width="0.2" textLength="30.22" lengthAdjust="spacingAndGlyphs">15,22 %</text><rect x="1146.44" y="514.82" width="38.6" height="14.0" rx="3" fill="#27b8d0" fill-opacity="0.84"/><text x="1165.74" y="524.25" font-size="9" text-anchor="middle" fill="#fff" stroke="#fff" stroke-width="0.2" textLength="25.64" lengthAdjust="spacingAndGlyphs">2,50 %</text><rect x="1165.56" y="502.62" width="38.6" height="14.0" rx="3" fill="#27b8d0" fill-opacity="0.84"/><text x="1184.86" y="512.04" font-size="9" text-anchor="middle" fill="#fff" stroke="#fff" stroke-width="0.2" textLength="25.64" lengthAdjust="spacingAndGlyphs">3,80 %</text><rect x="1184.68" y="455.48" width="38.6" height="14.0" rx="3" fill="#27b8d0" fill-opacity="0.84"/><text x="1203.98" y="464.9" font-size="9" text-anchor="middle" fill="#fff" stroke="#fff" stroke-width="0.2" textLength="25.64" lengthAdjust="spacingAndGlyphs">8,82 %</text><rect x="1203.2" y="505.9" width="38.6" height="14.0" rx="3" fill="#27b8d0" fill-opacity="0.84"/><text x="1222.5" y="515.33" font-size="9" text-anchor="middle" fill="#fff" stroke="#fff" stroke-width="0.2" textLength="25.64" lengthAdjust="spacingAndGlyphs">3,45 %</text>
<text x="649.3" y="578.2" font-size="9.5" text-anchor="middle" fill="#504e4c" textLength="5.15" lengthAdjust="spacingAndGlyphs">5</text>
<text x="668.42" y="578.2" font-size="9.5" text-anchor="middle" fill="#504e4c" textLength="5.15" lengthAdjust="spacingAndGlyphs">2</text>
<text x="687.54" y="578.2" font-size="9.5" text-anchor="middle" fill="#504e4c" textLength="5.15" lengthAdjust="spacingAndGlyphs">6</text>
<text x="706.66" y="578.2" font-size="9.5" text-anchor="middle" fill="#504e4c" textLength="10.3" lengthAdjust="spacingAndGlyphs">12</text>
<text x="725.78" y="578.2" font-size="9.5" text-anchor="middle" fill="#504e4c" textLength="10.3" lengthAdjust="spacingAndGlyphs">15</text>
<text x="744.9" y="578.2" font-size="9.5" text-anchor="middle" fill="#504e4c" textLength="10.3" lengthAdjust="spacingAndGlyphs">16</text>
<text x="764.02" y="578.2" font-size="9.5" text-anchor="middle" fill="#504e4c" textLength="10.3" lengthAdjust="spacingAndGlyphs">19</text>
<text x="783.14" y="578.2" font-size="9.5" text-anchor="middle" fill="#504e4c" textLength="10.3" lengthAdjust="spacingAndGlyphs">21</text>
<text x="802.26" y="578.2" font-size="9.5" text-anchor="middle" fill="#504e4c" textLength="10.3" lengthAdjust="spacingAndGlyphs">22</text>
<text x="821.38" y="578.2" font-size="9.5" text-anchor="middle" fill="#504e4c" textLength="10.3" lengthAdjust="spacingAndGlyphs">26</text>
<text x="840.5" y="578.2" font-size="9.5" text-anchor="middle" fill="#504e4c" textLength="10.3" lengthAdjust="spacingAndGlyphs">29</text>
<text x="859.62" y="578.2" font-size="9.5" text-anchor="middle" fill="#504e4c" textLength="5.15" lengthAdjust="spacingAndGlyphs">1</text>
<text x="878.74" y="578.2" font-size="9.5" text-anchor="middle" fill="#504e4c" textLength="5.15" lengthAdjust="spacingAndGlyphs">3</text>
<text x="897.86" y="578.2" font-size="9.5" text-anchor="middle" fill="#504e4c" textLength="5.15" lengthAdjust="spacingAndGlyphs">9</text>
<text x="916.98" y="578.2" font-size="9.5" text-anchor="middle" fill="#504e4c" textLength="10.3" lengthAdjust="spacingAndGlyphs">23</text>
<text x="936.1" y="578.2" font-size="9.5" text-anchor="middle" fill="#504e4c" textLength="5.15" lengthAdjust="spacingAndGlyphs">7</text>
<text x="955.22" y="578.2" font-size="9.5" text-anchor="middle" fill="#504e4c" textLength="5.15" lengthAdjust="spacingAndGlyphs">8</text>
<text x="974.34" y="578.2" font-size="9.5" text-anchor="middle" fill="#504e4c" textLength="10.3" lengthAdjust="spacingAndGlyphs">13</text>
<text x="993.46" y="578.2" font-size="9.5" text-anchor="middle" fill="#504e4c" textLength="10.3" lengthAdjust="spacingAndGlyphs">14</text>
<text x="1012.58" y="578.2" font-size="9.5" text-anchor="middle" fill="#504e4c" textLength="10.3" lengthAdjust="spacingAndGlyphs">20</text>
<text x="1031.7" y="578.2" font-size="9.5" text-anchor="middle" fill="#504e4c" textLength="10.3" lengthAdjust="spacingAndGlyphs">27</text>
<text x="1050.82" y="578.2" font-size="9.5" text-anchor="middle" fill="#504e4c" textLength="10.3" lengthAdjust="spacingAndGlyphs">28</text>
<text x="1069.94" y="578.2" font-size="9.5" text-anchor="middle" fill="#504e4c" textLength="5.15" lengthAdjust="spacingAndGlyphs">4</text>
<text x="1089.06" y="578.2" font-size="9.5" text-anchor="middle" fill="#504e4c" textLength="9.62" lengthAdjust="spacingAndGlyphs">11</text>
<text x="1108.18" y="578.2" font-size="9.5" text-anchor="middle" fill="#504e4c" textLength="10.3" lengthAdjust="spacingAndGlyphs">18</text>
<text x="1127.3" y="578.2" font-size="9.5" text-anchor="middle" fill="#504e4c" textLength="10.3" lengthAdjust="spacingAndGlyphs">25</text>
<text x="1146.42" y="578.2" font-size="9.5" text-anchor="middle" fill="#504e4c" textLength="10.3" lengthAdjust="spacingAndGlyphs">10</text>
<text x="1165.54" y="578.2" font-size="9.5" text-anchor="middle" fill="#504e4c" textLength="10.3" lengthAdjust="spacingAndGlyphs">17</text>
<text x="1184.66" y="578.2" font-size="9.5" text-anchor="middle" fill="#504e4c" textLength="10.3" lengthAdjust="spacingAndGlyphs">24</text>
<text x="1203.78" y="578.2" font-size="9.5" text-anchor="middle" fill="#504e4c" textLength="10.3" lengthAdjust="spacingAndGlyphs">30</text>
<text x="1222.9" y="578.2" font-size="9.5" text-anchor="middle" fill="#504e4c" textLength="10.3" lengthAdjust="spacingAndGlyphs">31</text>
<circle cx="877.4" cy="597.1" r="4.1" fill="#b3b3b3"/><text x="883.5" y="601.16" font-size="10.5" text-anchor="start" fill="#504e4c" textLength="27.6" lengthAdjust="spacingAndGlyphs">Leads</text><circle cx="920.5" cy="597.1" r="4.1" fill="#5ccde0"/><text x="925.7" y="601.16" font-size="10.5" text-anchor="start" fill="#504e4c" textLength="75.3" lengthAdjust="spacingAndGlyphs">%efectividad IN</text>
<!-- ===== sidebar icons ===== -->
<!-- logo -->
<g>
<polygon points="83.5,13.1 90.5,22 93,26.7 83.5,39.9 74.7,26.7 77,22" fill="#7ccdd0" fill-opacity="0.5"/>
<polygon points="73.7,14.8 82.5,21 86.5,30 83.5,39.9 70,31" fill="#7ccdd0" fill-opacity="0.5"/>
<polygon points="93.7,14.8 84.5,21 80.5,30 83.5,39.9 97.9,31" fill="#7ccdd0" fill-opacity="0.5"/>
<polygon points="83.5,22 86.6,24 85,30 83.5,39.5 82.2,30 80.6,24" fill="#5fc3c8" fill-opacity="0.75"/>
</g>
<!-- collapse -->
<g stroke="#8e9bb3" stroke-width="0.95" fill="none">
<path d="M182.8 24.7 L179.2 27.3 L182.8 29.9"/>
<path d="M186 23.6 H197.8 M186 27.5 H197.8 M186 31.2 H197.8"/>
</g>
<!-- megaphone -->
<g stroke="#4b5162" stroke-width="1.45" fill="none" stroke-linejoin="round" stroke-linecap="round">
<path d="M35.6 114.8 V128.6"/>
<path d="M35.6 115.8 Q33.4 118.4 30 118.4 H24.2 Q22.2 118.4 22.2 120.4 V121.9 Q22.2 123.9 24.2 123.9 H30 Q33.4 123.9 35.6 127.4"/>
<path d="M25.7 118.4 V123.9"/>
<path d="M25.3 124.3 L23 129.8 H26.3 L28.8 124.5"/>
</g>
<!-- analytics -->
<g>
<path d="M20.9 145 H22.3 V157 L27.4 150.9 L31.5 153.2 L35.2 148.6 V157.8 H20.9 Z" fill="#12b3cc"/>
<path d="M22.3 154.2 L26.5 147.4 L30.7 150.2 L34.3 145.3" stroke="#12b3cc" stroke-width="1.7" fill="none" stroke-linejoin="miter"/>
</g>
<!-- chevron up -->
<path d="M167.3 154.4 L172.6 148.6 L177.9 154.4" stroke="#17b3cc" stroke-width="1.35" fill="none" stroke-linecap="round" stroke-linejoin="round"/>
<!-- pie -->
<g stroke="#4b5162" stroke-width="1.25" fill="none" stroke-linecap="round">
<circle cx="44.1" cy="180.2" r="5.8"/>
<path d="M44.1 174.4 V180.2 H49.9 M44.1 180.2 L47.9 184.6"/>
</g>
<!-- BI insight box -->
<rect x="24.6" y="195.7" width="173.2" height="27.7" rx="3" fill="none" stroke="#17b3cc" stroke-width="1.1"/>
<g stroke="#4b5162" stroke-width="1.3" fill="none" stroke-linecap="round" stroke-linejoin="round">
<path d="M38.7 203.6 V215.1 H49.9"/>
<path d="M41.6 210.6 L44.4 207.6 L46 209.2 L49.5 205.7"/>
</g>
<!-- checks -->
<g stroke="#4b5162" stroke-width="1.4" fill="none" stroke-linecap="round" stroke-linejoin="round">
<path d="M38.4 273.4 L41.9 276.5 L48.1 270.3"/>
<path d="M37.4 302.4 L40.9 305.5 L47.2 299.3"/>
<path d="M38.4 331.4 L41.9 334.5 L48.1 328.3"/>
</g>
<!-- clock -->
<g stroke="#4b5162" stroke-width="1.3" fill="none" stroke-linecap="round" stroke-linejoin="round">
<circle cx="42.9" cy="359.2" r="6.3"/>
<path d="M42.9 355.4 V359.6 L45.6 361.2"/>
</g>
<!-- gear -->
<g stroke="#4b5162" stroke-width="1.3" fill="none" stroke-linejoin="round">
<circle cx="27.9" cy="388.2" r="2.3"/>
<path d="M32.72 386.88 L34.42 387.17 L34.42 389.23 L32.72 389.52 L32.24 390.68 L33.24 392.08 L31.78 393.54 L30.38 392.54 L29.22 393.02 L28.93 394.72 L26.87 394.72 L26.58 393.02 L25.42 392.54 L24.02 393.54 L22.56 392.08 L23.56 390.68 L23.08 389.52 L21.38 389.23 L21.38 387.17 L23.08 386.88 L23.56 385.72 L22.56 384.32 L24.02 382.86 L25.42 383.86 L26.58 383.38 L26.87 381.68 L28.93 381.68 L29.22 383.38 L30.38 383.86 L31.78 382.86 L33.24 384.32 L32.24 385.72 Z"/>
</g>
<!-- chevron down -->
<path d="M166.8 386 L172.1 391.4 L177.4 386" stroke="#4b5162" stroke-width="1.35" fill="none" stroke-linecap="round" stroke-linejoin="round"/>
<!-- avatar -->
<circle cx="173.6" cy="582.2" r="12.8" fill="#18b2ca" stroke="#eefbfd" stroke-width="0.8"/>
<text x="173.6" y="585.9" font-size="12.2" fill="#fff" text-anchor="middle" textLength="15.6" lengthAdjust="spacingAndGlyphs">Da</text>
<circle cx="180" cy="592.8" r="5.6" fill="#f3f5f9"/>
<path d="M177.2 591.5 L180 594.4 L182.8 591.5" stroke="#3d4250" stroke-width="1.1" fill="none" stroke-linecap="round" stroke-linejoin="round"/>
</svg>
</div>
<!-- ===== sidebar text ===== -->
<div class="sec" style="left:22.6px;top:21.1px;font-size:13.2px;color:#3c3c3c;letter-spacing:2.994px">LAIA</div>
<div class="sec" style="left:16.8px;top:84.2px;font-size:12.8px;letter-spacing:1.018px">Contenido</div>
<div class="hr" style="left:123px;top:89px;width:79px"></div>
<div class="t" style="left:48.3px;top:117.6px;letter-spacing:0.793px">Campañas</div>
<div class="t" style="left:46.2px;top:146px;color:#17b3cc;letter-spacing:0.608px">Analytics Center</div>
<div class="t" style="left:63.7px;top:175px;letter-spacing:0.600px">BI Custom</div>
<div class="t" style="left:63.7px;top:203.8px;letter-spacing:0.625px">BI Insight</div>
<div class="sec" style="left:32px;top:234px;font-size:12.8px;letter-spacing:0.780px">Reportes</div>
<div class="hr" style="left:129.4px;top:238.4px;width:74px"></div>
<div class="t" style="left:63.4px;top:267.6px;letter-spacing:0.688px">Reporte Operativo</div>
<div class="t" style="left:61.7px;top:296.8px;letter-spacing:0.453px">Resumen tipificaci…</div>
<div class="t" style="left:63.4px;top:325.6px;letter-spacing:0.623px">Corte</div>
<div class="t" style="left:61.7px;top:353.8px;letter-spacing:0.471px">Programacion Rep…</div>
<div class="t" style="left:46.5px;top:382.8px;letter-spacing:0.526px">Configuración</div>
<div class="sec" style="left:20.4px;top:570.7px;font-size:11.4px;color:#4b4f58;letter-spacing:0.230px">DevCal avd</div>
<div class="sec" style="left:20.4px;top:585.9px;font-size:9.8px;color:#1fb4cd;letter-spacing:0.751px">Superadmin</div>
</body>
</html>
